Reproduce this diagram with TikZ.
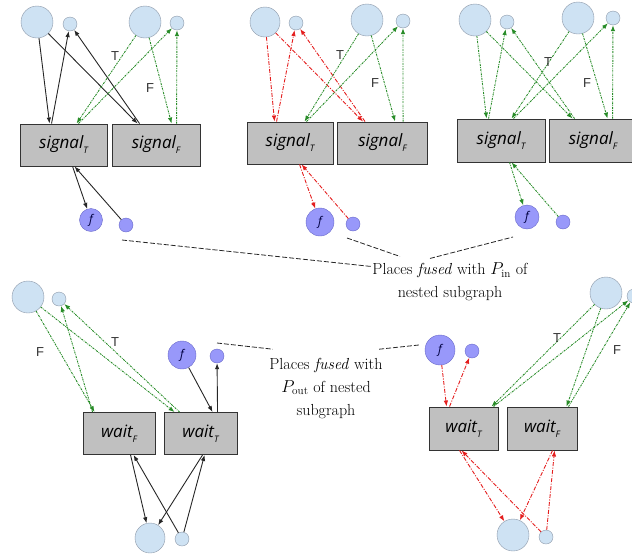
\documentclass[tikz,border=0pt]{standalone}
\usepackage{fontspec}
\usepackage{tikz}
\usetikzlibrary{arrows.meta, calc, positioning}

\newfontfamily\boxfont{Open Sans}
\newfontfamily\lblfont{Liberation Sans}

\definecolor{placeblue}{RGB}{206,226,243}
\definecolor{placeedge}{RGB}{140,152,168}
\definecolor{fuseblue}{RGB}{152,152,250}
\definecolor{fuseedge}{RGB}{105,105,200}
\definecolor{boxgray}{RGB}{192,192,192}
\definecolor{arcred}{RGB}{228,30,30}
\definecolor{arcgreen}{RGB}{40,140,40}

% transition label: italic name with a lowered index
\newcommand{\trl}[2]{#1\raisebox{-0.55ex}{\fontsize{9}{9}\selectfont #2}}

\tikzset{
    bigplace/.style={circle, draw=placeedge, fill=placeblue, inner sep=0pt, minimum size=32pt},
    smallplace/.style={circle, draw=placeedge, fill=placeblue, inner sep=0pt, minimum size=14pt},
    fplace/.style={circle, draw=fuseedge, fill=fuseblue, inner sep=0pt, text=blue!25!black,
        font=\boxfont\itshape\fontsize{12}{12}\selectfont},
    fsmall/.style={circle, draw=fuseedge, fill=fuseblue, inner sep=0pt, minimum size=14pt},
    trans/.style={rectangle, draw=black!80, fill=boxgray, inner sep=0pt, minimum height=42pt,
        line width=0.9pt, font=\boxfont\itshape\fontsize{17}{17}\selectfont},
    blk/.style={-{Latex[length=6pt,width=4.5pt]}, black!85, line width=0.9pt},
    redarc/.style={-{Latex[length=6pt,width=4.5pt]}, arcred, line width=0.9pt,
        dash pattern=on 4pt off 1.5pt on 1pt off 1.5pt},
    grnarc/.style={-{Latex[length=6pt,width=4.5pt]}, arcgreen, line width=0.9pt,
        dash pattern=on 2pt off 1pt on 0.7pt off 1pt},
    fuseline/.style={black!85, line width=0.8pt, dash pattern=on 5pt off 2pt},
    tf/.style={font=\lblfont\fontsize{13}{13}\selectfont, text=black!80},
    note/.style={align=center, font=\fontsize{16}{23}\selectfont},
}

\begin{document}
\begin{tikzpicture}[x=1pt, y=-1pt]

    \useasboundingbox (0,0) rectangle (632,555);

    % Top left: signal, black arcs
    \node[bigplace] (a1) at (37,22) {};
    \node[smallplace] (a2) at (70,24) {};
    \node[bigplace] (b1) at (145,22) {};
    \node[smallplace] (b2) at (177,23) {};
    \node[trans, minimum width=87pt] (sT1) at (63.5,145) {\trl{signal}{T}};
    \node[trans, minimum width=88pt] (sF1) at (156,145) {\trl{signal}{F}};
    \node[fplace, minimum size=23pt] (f1) at (91,220) {f};
    \node[fsmall] (f2) at (126,225) {};
    \draw[blk] (a1) -- ($(sT1.north west)+(30,0)$);
    \draw[blk] ($(sT1.north west)+(32,0)$) -- (a2);
    \draw[blk] (a1) -- ($(sF1.north west)+(26,0)$);
    \draw[blk] ($(sF1.north west)+(28,0)$) -- (a2);
    \draw[grnarc] (b1) -- ($(sT1.north west)+(57,0)$);
    \draw[grnarc] ($(sT1.north west)+(59,0)$) -- (b2);
    \draw[grnarc] (b1) -- ($(sF1.north west)+(60,0)$);
    \draw[grnarc] ($(sF1.north west)+(65,0)$) -- (b2);
    \draw[blk] ($(sT1.south west)+(53,0)$) -- (f1);
    \draw[blk] (f2) -- ($(sT1.south west)+(55,0)$);
    \node[tf] (t1) at (115,56) {T};
    \node[tf] (e1lbl) at (150,88) {F};

    % Top middle: signal, red arcs
    \node[bigplace, minimum size=30pt] (c1) at (265,22) {};
    \node[smallplace] (c2) at (296,23) {};
    \node[bigplace] (d1) at (367,20) {};
    \node[smallplace] (d2) at (403,21) {};
    \node[trans, minimum width=86pt] (sT2) at (290,143) {\trl{signal}{T}};
    \node[trans, minimum width=90pt] (sF2) at (382.5,143) {\trl{signal}{F}};
    \node[fplace, minimum size=28pt] (f3) at (320,222) {f};
    \node[fsmall] (f4) at (353,224) {};
    \draw[redarc] (c1) -- ($(sT2.north west)+(28,0)$);
    \draw[redarc] ($(sT2.north west)+(30,0)$) -- (c2);
    \draw[redarc] (c1) -- ($(sF2.north west)+(26,0)$);
    \draw[redarc] ($(sF2.north west)+(28,0)$) -- (c2);
    \draw[grnarc] (d1) -- ($(sT2.north west)+(58,0)$);
    \draw[grnarc] ($(sT2.north west)+(60,0)$) -- (d2);
    \draw[grnarc] (d1) -- ($(sF2.north west)+(58,0)$);
    \draw[grnarc] ($(sF2.north west)+(66,0)$) -- (d2);
    \draw[redarc] ($(sT2.south west)+(53,0)$) -- (f3);
    \draw[redarc] (f4) -- ($(sT2.south west)+(55,0)$);
    \node[tf] (t2) at (340,55) {T};
    \node[tf] (e2lbl) at (375,83) {F};

    % Top right: signal, green arcs only
    \node[bigplace] (e1) at (475,20) {};
    \node[smallplace] (e2) at (507,22) {};
    \node[bigplace] (g1) at (578,18) {};
    \node[smallplace] (g2) at (613,18) {};
    \node[trans, minimum width=88pt, minimum height=43pt] (sT3) at (501,140.5) {\trl{signal}{T}};
    \node[trans, minimum width=88pt, minimum height=43pt] (sF3) at (593,140.5) {\trl{signal}{F}};
    \node[fplace, minimum size=24pt] (f5) at (527,217) {f};
    \node[fsmall] (f6) at (563,222) {};
    \draw[grnarc] (e1) -- ($(sT3.north west)+(30,0)$);
    \draw[grnarc] ($(sT3.north west)+(32,0)$) -- (e2);
    \draw[grnarc] (e1) -- ($(sF3.north west)+(24,0)$);
    \draw[grnarc] ($(sF3.north west)+(26,0)$) -- (e2);
    \draw[grnarc] (g1) -- ($(sT3.north west)+(55,0)$);
    \draw[grnarc] ($(sT3.north west)+(57,0)$) -- (g2);
    \draw[grnarc] (g1) -- ($(sF3.north west)+(59,0)$);
    \draw[grnarc] ($(sF3.north west)+(64,0)$) -- (g2);
    \draw[grnarc] ($(sT3.south west)+(53,0)$) -- (f5);
    \draw[grnarc] (f6) -- ($(sT3.south west)+(55,0)$);
    \node[tf] (t3) at (548,62) {T};
    \node[tf] (e3lbl) at (587,83) {F};

    % Fused places, input side
    \node[note] (pin) at (450,282) {Places \textit{fused} with $P_{\mathrm{in}}$ of\\nested subgraph};
    \draw[fuseline] ($(f2)+(-4,15)$) -- ($(pin.north west)+(2,7)$);
    \draw[fuseline] ($(f4)+(-6,14)$) -- ($(pin.north)+(-50,-3)$);
    \draw[fuseline] ($(pin.north)+(-20,-1)$) -- ($(f5)+(-14,20)$);

    % Bottom left: wait, black arcs
    \node[bigplace] (h1) at (28,297) {};
    \node[smallplace] (h2) at (59,299) {};
    \node[trans, minimum width=72pt] (wF4) at (119,433.5) {\trl{wait}{F}};
    \node[trans, minimum width=73pt] (wT4) at (200.5,433.5) {\trl{wait}{T}};
    \node[fplace, minimum size=28pt] (f7) at (182,355) {f};
    \node[fsmall] (f8) at (217,356) {};
    \node[bigplace, minimum size=30pt] (k1) at (150,538) {};
    \node[smallplace] (k2) at (182,539) {};
    \draw[grnarc] (h1) -- ($(wF4.north west)+(12,0)$);
    \draw[grnarc] ($(wF4.north west)+(10,0)$) -- (h2);
    \draw[grnarc] (h1) -- ($(wT4.north west)+(11,0)$);
    \draw[grnarc] ($(wT4.north west)+(16,0)$) -- (h2);
    \draw[blk] (f7) -- ($(wT4.north west)+(49,0)$);
    \draw[blk] ($(wT4.north west)+(54,0)$) -- (f8);
    \draw[blk] ($(wF4.south west)+(48,0)$) -- (k1);
    \draw[blk] (k2) -- ($(wF4.south west)+(51,0)$);
    \draw[blk] ($(wT4.south west)+(39,0)$) -- (k1);
    \draw[blk] (k2) -- ($(wT4.south west)+(41,0)$);
    \node[tf] (e4lbl) at (40,352) {F};
    \node[tf] (t4) at (115,342) {T};

    % Bottom right: wait, red arcs
    \node[fplace, minimum size=30pt] (f9) at (440,350) {f};
    \node[fsmall] (f10) at (472,351) {};
    \node[trans, minimum width=69pt, minimum height=43pt] (wT5) at (463.5,428.5) {\trl{wait}{T}};
    \node[trans, minimum width=70pt, minimum height=43pt] (wF5) at (542,428.5) {\trl{wait}{F}};
    \node[bigplace] (j1) at (606,293) {};
    \node[smallplace] (j2) at (634,296) {};
    \node[bigplace] (m1) at (513,535) {};
    \node[smallplace] (m2) at (546,537) {};
    \draw[redarc] (f9) -- ($(wT5.north west)+(18,0)$);
    \draw[redarc] ($(wT5.north west)+(21,0)$) -- (f10);
    \draw[grnarc] (j1) -- ($(wT5.north west)+(63,0)$);
    \draw[grnarc] ($(wT5.north west)+(65,0)$) -- (j2);
    \draw[grnarc] (j1) -- ($(wF5.north west)+(60,0)$);
    \draw[grnarc] ($(wF5.north west)+(62,0)$) -- (j2);
    \draw[redarc] ($(wT5.south west)+(31,0)$) -- (m1);
    \draw[redarc] (m2) -- ($(wT5.south west)+(33,0)$);
    \draw[redarc] ($(wF5.south west)+(46,0)$) -- (m1);
    \draw[redarc] (m2) -- ($(wF5.south west)+(48,0)$);
    \node[tf] (t5) at (557,338) {T};
    \node[tf] (e5lbl) at (617,350) {F};

    % Fused places, output side
    \node[note] (pout) at (326,388) {Places \textit{fused} with\\$P_{\mathrm{out}}$ of nested\\subgraph};
    \draw[fuseline] ($(f8)+(0,-13)$) -- ($(pout.north west)+(7,-5)$);
    \draw[fuseline] ($(pout.north east)+(-7,-5)$) -- ($(f9.west)+(-6,-5)$);

\end{tikzpicture}
\end{document}
